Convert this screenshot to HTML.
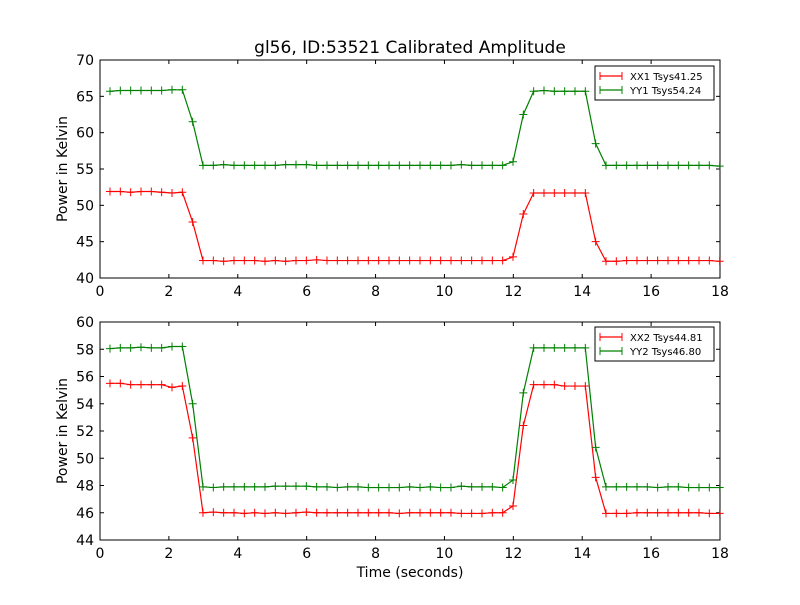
<!DOCTYPE html>
<html><head><meta charset="utf-8"><style>
body{margin:0;background:#fff;}
svg text{font-family:"DejaVu Sans","Liberation Sans",sans-serif;}
</style></head><body>
<svg id="chart" width="800" height="600" viewBox="0 0 800 600" xmlns="http://www.w3.org/2000/svg">
<rect width="800" height="600" fill="#fff"/>
<text x="410" y="53" font-size="17" text-anchor="middle">gl56, ID:53521 Calibrated Amplitude</text>
<g id="p1"></g>
<g id="p2"></g>
<text x="410" y="577" font-size="14" text-anchor="middle">Time (seconds)</text>
</svg>
<script>
const times=[0.29,0.59,0.89,1.19,1.49,1.79,2.09,2.39,2.69,2.99,3.29,3.59,3.89,4.19,4.49,4.79,5.09,5.39,5.69,5.99,6.29,6.59,6.89,7.19,7.49,7.79,8.09,8.39,8.69,8.99,9.29,9.59,9.89,10.19,10.49,10.79,11.09,11.39,11.69,11.99,12.29,12.59,12.89,13.19,13.49,13.79,14.09,14.39,14.69,14.99,15.29,15.59,15.89,16.19,16.49,16.79,17.09,17.39,17.69,17.99];
const xx1=[51.9,51.9,51.8,51.9,51.9,51.8,51.7,51.8,47.7,42.4,42.4,42.3,42.4,42.4,42.4,42.3,42.4,42.3,42.4,42.4,42.5,42.4,42.4,42.4,42.4,42.4,42.4,42.4,42.4,42.4,42.4,42.4,42.4,42.4,42.4,42.4,42.4,42.4,42.4,42.9,48.8,51.7,51.7,51.7,51.7,51.7,51.7,45.0,42.3,42.3,42.4,42.4,42.4,42.4,42.4,42.4,42.4,42.4,42.4,42.3];
const yy1=[65.7,65.8,65.8,65.8,65.8,65.8,65.9,65.9,61.5,55.5,55.5,55.6,55.5,55.5,55.5,55.5,55.5,55.6,55.6,55.6,55.5,55.5,55.5,55.5,55.5,55.5,55.5,55.5,55.5,55.5,55.5,55.5,55.5,55.5,55.6,55.5,55.5,55.5,55.5,56.0,62.5,65.7,65.8,65.7,65.7,65.7,65.7,58.5,55.5,55.5,55.5,55.5,55.5,55.5,55.5,55.5,55.5,55.5,55.5,55.4];
const xx2=[55.5,55.5,55.4,55.4,55.4,55.4,55.2,55.3,51.5,46.0,46.05,46.0,46.0,45.95,46.0,45.95,46.0,45.95,46.0,46.05,46.0,46.0,46.0,46.0,46.0,46.0,46.0,46.0,45.95,46.0,46.0,46.0,46.0,46.0,45.95,45.95,45.95,46.0,46.0,46.5,52.4,55.4,55.4,55.4,55.3,55.3,55.3,48.6,45.95,45.95,45.95,46.0,46.0,46.0,46.0,46.0,46.0,46.0,45.95,45.95];
const yy2=[58.05,58.1,58.1,58.15,58.1,58.1,58.2,58.2,54.0,47.9,47.85,47.9,47.9,47.9,47.9,47.9,47.95,47.95,47.95,47.95,47.9,47.9,47.85,47.9,47.9,47.85,47.85,47.85,47.85,47.9,47.85,47.9,47.85,47.85,47.95,47.9,47.9,47.9,47.85,48.4,54.8,58.1,58.1,58.1,58.1,58.1,58.1,50.8,47.9,47.9,47.9,47.9,47.9,47.85,47.9,47.9,47.85,47.85,47.85,47.85];
const xTicks=[0,2,4,6,8,10,12,14,16,18];
const y1Ticks=[40,45,50,55,60,65,70];
const y2Ticks=[44,46,48,50,52,54,56,58,60];
const NS="http://www.w3.org/2000/svg";
function mk(tag,attrs,parent){const e=document.createElementNS(NS,tag);for(const k in attrs)e.setAttribute(k,attrs[k]);parent.appendChild(e);return e;}
function panel(g,top,ymin,ymax,yTicks,series,legendNames,legendTop){
  const L=100,R=720,T=top,B=top+218;
  const xs=v=>L+(v-0)/(18-0)*(R-L);
  const ys=v=>B-(v-ymin)/(ymax-ymin)*(B-T);
  const frame=mk('rect',{x:L,y:T,width:R-L,height:B-T,fill:'#fff',stroke:'#000','stroke-width':1},g);
  
  
  xTicks.forEach(t=>{const x=xs(t);
    mk('line',{x1:x,y1:B,x2:x,y2:B-4,stroke:'#000'},g);mk('line',{x1:x,y1:T,x2:x,y2:T+4,stroke:'#000'},g);
    const tx=mk('text',{x:x,y:B+18,'font-size':14,'text-anchor':'middle'},g);tx.textContent=t;
    
    });
  yTicks.forEach(t=>{const y=ys(t);
    mk('line',{x1:L,y1:y,x2:L+4,y2:y,stroke:'#000'},g);mk('line',{x1:R,y1:y,x2:R-4,y2:y,stroke:'#000'},g);
    const tx=mk('text',{x:L-6,y:y+5,'font-size':14,'text-anchor':'end'},g);tx.textContent=t;
    
    });
  const yl=mk('text',{x:0,y:0,'font-size':14,'text-anchor':'middle',transform:`translate(67,${(T+B)/2}) rotate(-90)`},g);
  yl.textContent='Power in Kelvin';
  
  
  series.forEach(s=>{
    const sg=mk('g',{},g);
    
    
    mk('polyline',{points:times.map((t,i)=>xs(t)+','+ys(s.vals[i])).join(' '),fill:'none',stroke:s.color,'stroke-width':1.2},sg);
    times.forEach((t,i)=>{const x=xs(t),y=ys(s.vals[i]);
      mk('path',{d:`M${x-4},${y}H${x+4}M${x},${y-4}V${y+4}`,stroke:s.color,'stroke-width':1},sg);});
  });
  const lg=mk('g',{},g);
  
  
  mk('rect',{x:595,y:legendTop,width:119,height:34,fill:'#fff',stroke:'#000'},lg);
  series.forEach((s,i)=>{const y=legendTop+10+i*14;
    mk('line',{x1:600,y1:y,x2:622,y2:y,stroke:s.color,'stroke-width':1.2},lg);
    mk('path',{d:`M600,${y-4}V${y+4}M622,${y-4}V${y+4}`,stroke:s.color},lg);
    const tx=mk('text',{x:630,y:y+4,'font-size':10},lg);tx.textContent=legendNames[i];
    
    });
}
panel(document.getElementById('p1'),60,40,70,y1Ticks,[{name:'series-xx1',vals:xx1,color:'#ff0000'},{name:'series-yy1',vals:yy1,color:'#008000'}],['XX1 Tsys41.25','YY1 Tsys54.24'],66);
panel(document.getElementById('p2'),322,44,60,y2Ticks,[{name:'series-xx2',vals:xx2,color:'#ff0000'},{name:'series-yy2',vals:yy2,color:'#008000'}],['XX2 Tsys44.81','YY2 Tsys46.80'],327);
</script>
</body></html>
